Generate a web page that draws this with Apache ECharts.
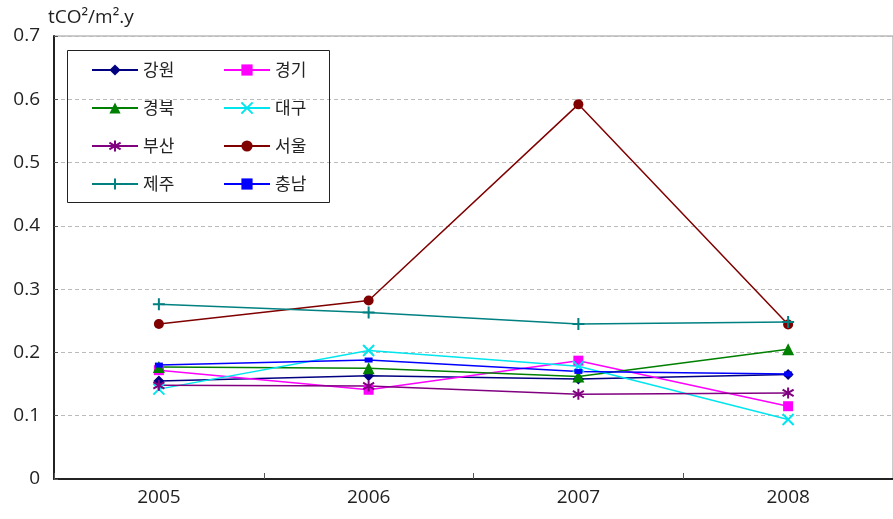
<!DOCTYPE html>
<html>
<head>
<meta charset="utf-8">
<script src="https://cdn.jsdelivr.net/npm/echarts@6/dist/echarts.min.js"></script>
<style>html,body{margin:0;padding:0;background:#fff;}#c{width:893px;height:519px;}</style>
</head>
<body>
<div id="c"></div>
<script>
var years = ['2005', '2006', '2007', '2008'];
var names = ['강원', '경기', '경북', '대구', '부산', '서울', '제주', '충남'];
var gangwon   = [0.155, 0.163, 0.158, 0.165];
var gyeonggi  = [0.172, 0.141, 0.187, 0.115];
var gyeongbuk = [0.177, 0.175, 0.162, 0.205];
var daegu     = [0.142, 0.203, 0.178, 0.094];
var busan     = [0.148, 0.147, 0.134, 0.136];
var seoul     = [0.245, 0.282, 0.592, 0.244];
var jeju      = [0.276, 0.263, 0.245, 0.248];
var chungnam  = [0.180, 0.188, 0.170, 0.166];
var yTitle = 'tCO²/m².y';

var values = [gangwon, gyeonggi, gyeongbuk, daegu, busan, seoul, jeju, chungnam];
var colors = ['#000080', '#FF00FF', '#008000', '#00E5EE', '#800080', '#800000', '#008080', '#0000FF'];
var symbols = ['diamond', 'rect', 'triangle',
  'path://M0,0L10,10M10,0L0,10',
  'path://M5,0L5,10M0,2L10,8M0,8L10,2',
  'circle',
  'path://M5,0L5,10M0,5L10,5',
  'path://M0,3L10,3L10,7L0,7Z'];
var sizes = [11, 10, 12, 11, 11, 10, 12, [8, 5]];
var stroked = [false, false, false, true, true, false, true, false];

var font = '"Noto Sans CJK KR", "Noto Sans", sans-serif';
var numFont = '"Open Sans", "DejaVu Sans", sans-serif';

var series = names.map(function (n, i) {
  return {
    name: n, type: 'line', data: values[i],
    symbol: symbols[i], symbolSize: sizes[i],
    showAllSymbol: true,
    lineStyle: {color: colors[i], width: 1.5},
    itemStyle: stroked[i] ? {color: colors[i], borderColor: colors[i], borderWidth: 2} : {color: colors[i]},
    emphasis: {disabled: true},
    animation: false
  };
});

var legendCommon = {
  orient: 'vertical', itemWidth: 46, itemHeight: 14, itemGap: 20, padding: 0,
  textStyle: {fontFamily: font, fontSize: 17, lineHeight: 18, color: '#222'},
  selectedMode: false
};

var chart = echarts.init(document.getElementById('c'), null, {renderer: 'canvas'});
chart.setOption({
  backgroundColor: '#fff',
  animation: false,
  color: colors,
  grid: {left: 54, right: -5, top: 36, bottom: 40, show: true, borderColor: '#999', borderWidth: 1},
  xAxis: {
    type: 'category', data: years, boundaryGap: true,
    axisLine: {lineStyle: {color: '#222', width: 2}},
    axisTick: {show: true, inside: true, length: 6, lineStyle: {color: '#555'}},
    axisLabel: {fontFamily: numFont, fontSize: 19, color: '#222', margin: 9}
  },
  yAxis: {
    type: 'value', min: 0, max: 0.7, interval: 0.1,
    axisLine: {show: true, lineStyle: {color: '#222', width: 2}},
    axisTick: {show: true, inside: true, length: 4, lineStyle: {color: '#555'}},
    axisLabel: {fontFamily: numFont, fontSize: 19, color: '#222', margin: 14,
      formatter: function (v) { return v === 0 ? '0' : v.toFixed(1); }},
    splitLine: {show: true, lineStyle: {color: '#bbb', type: [4, 3], width: 1}}
  },
  legend: [
    Object.assign({left: 91, top: 61, data: ['강원', '경북', '부산', '제주']}, legendCommon),
    Object.assign({left: 223, top: 61, data: ['경기', '대구', '서울', '충남']}, legendCommon)
  ],
  graphic: [
    {type: 'rect', shape: {x: 67.5, y: 50.5, width: 262, height: 152},
      style: {fill: 'rgba(255,255,255,0)', stroke: '#222', lineWidth: 1}, z: 100},
    {type: 'text', left: 48, top: 8,
      style: {text: yTitle, font: '19px ' + numFont, fill: '#222'}}
  ],
  series: series
});
</script>
</body>
</html>
